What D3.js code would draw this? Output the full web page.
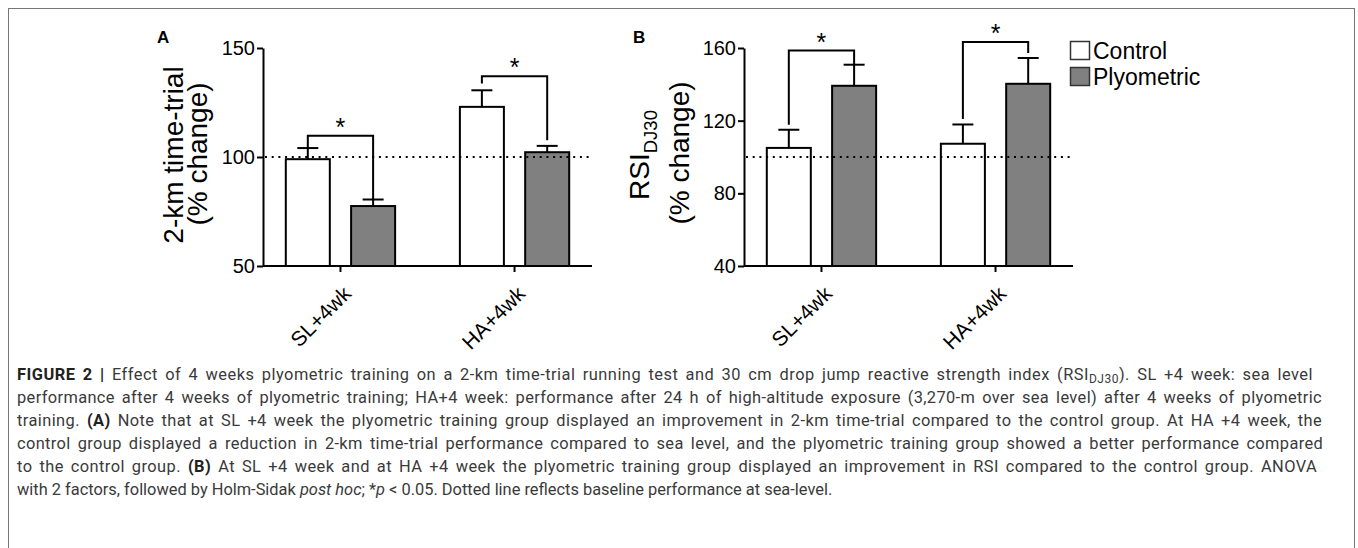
<!DOCTYPE html>
<html><head><meta charset="utf-8">
<script src="https://cdn.jsdelivr.net/npm/d3@7"></script>
<style>
body{margin:0;background:#fff}
svg{display:block}
.chart text{font-family:"Liberation Sans",Arial,sans-serif;fill:#000}
.cap text{font-family:Roboto,"Liberation Sans",sans-serif;fill:#3a3a3a}
</style>
</head><body>
<svg id="c" width="1358" height="548"></svg>
<script>
// ---------- data ----------
const categories = ["SL+4wk", "HA+4wk"];
const series = ["Control", "Plyometric"];
// Panel A: 2-km time-trial (% change)
const ttControl = [99.0, 123.0];
const ttControlSem = [5.1, 7.6];
const ttPlyo = [77.5, 102.2];
const ttPlyoSem = [3.0, 2.9];
const ttTicks = [50, 100, 150];
// [bracket level, control leg end, plyometric leg end]
const ttBrackets = [[109.8, 104.1, 80.5], [137.0, 133.7, 107.7]];
// Panel B: RSI DJ30 (% change)
const rsiControl = [105.0, 107.3];
const rsiControlSem = [10.0, 10.6];
const rsiPlyo = [139.2, 140.3];
const rsiPlyoSem = [11.6, 14.2];
const rsiTicks = [40, 80, 120, 160];
const rsiBrackets = [[158.6, 117.7, 150.8], [163.3, 120.9, 157.2]];
const baselineValue = 100;
const fills = {Control: "#ffffff", Plyometric: "#808080"};

const svg = d3.select("#c");
svg.append("rect").attr("x", 8.5).attr("y", 8.5).attr("width", 1346).attr("height", 620)
  .attr("fill", "none").attr("stroke", "#777").attr("stroke-width", 1);

const chart = svg.append("g").attr("class", "chart");

function panel(o) {
  const g = chart.append("g");
  const x0 = d3.scaleBand().domain(categories).range([o.left, o.left + 329])
    .paddingInner(0.372).paddingOuter(0.131);
  const x1 = d3.scaleBand().domain(series).range([0, x0.bandwidth()]).paddingInner(0.326);
  const y = d3.scaleLinear().domain([o.ticks[0], o.ticks[o.ticks.length - 1]]).range([266, 48]);

  const rows = [];
  categories.forEach((c, i) => {
    rows.push({c, s: "Control", v: o.control[i], e: o.controlSem[i]});
    rows.push({c, s: "Plyometric", v: o.plyo[i], e: o.plyoSem[i]});
  });
  const cx = d => x0(d.c) + x1(d.s) + x1.bandwidth() / 2;

  // error bars
  g.selectAll(".err").data(rows).join("g").each(function (d) {
    const e = d3.select(this);
    e.append("line").attr("x1", cx(d)).attr("x2", cx(d)).attr("y1", y(d.v)).attr("y2", y(d.v + d.e))
      .attr("stroke", "#000").attr("stroke-width", 2);
    e.append("line").attr("x1", cx(d) - 10.5).attr("x2", cx(d) + 10.5)
      .attr("y1", y(d.v + d.e)).attr("y2", y(d.v + d.e)).attr("stroke", "#000").attr("stroke-width", 2);
  });
  // bars
  g.selectAll(".bar").data(rows).join("rect")
    .attr("x", d => x0(d.c) + x1(d.s)).attr("width", x1.bandwidth())
    .attr("y", d => y(d.v)).attr("height", d => y(o.ticks[0]) - y(d.v))
    .attr("fill", d => fills[d.s]).attr("stroke", "#000").attr("stroke-width", 2);

  // brackets
  categories.forEach((c, i) => {
    const b = o.brackets[i];
    const xl = x0(c) + x1("Control") + x1.bandwidth() / 2;
    const xr = x0(c) + x1("Plyometric") + x1.bandwidth() / 2;
    g.append("path")
      .attr("d", `M${xl},${y(b[1])}V${y(b[0])}H${xr}V${y(b[2])}`)
      .attr("fill", "none").attr("stroke", "#000").attr("stroke-width", 2);
    g.append("text").attr("x", (xl + xr) / 2).attr("y", y(b[0]) + 0)
      .attr("text-anchor", "middle").attr("font-size", 25).text("*");
  });

  // dotted baseline
  g.append("line").attr("x1", o.left + 2).attr("x2", o.left + 329)
    .attr("y1", y(baselineValue)).attr("y2", y(baselineValue))
    .attr("stroke", "#000").attr("stroke-width", 2).attr("stroke-dasharray", "2,4.7");

  // y axis
  const ya = g.append("g").attr("transform", `translate(${o.left},0)`)
    .call(d3.axisLeft(y).tickValues(o.ticks).tickSize(6).tickSizeOuter(0).tickPadding(2));
  ya.select(".domain").attr("stroke-width", 2);
  ya.selectAll(".tick line").attr("stroke-width", 2);
  ya.selectAll(".tick text").attr("font-size", 20).attr("font-family", "Liberation Sans, Arial, sans-serif").attr("fill", "#000");

  // x axis
  const xa = g.append("g").attr("transform", `translate(0,266)`);
  xa.append("line").attr("x1", o.left).attr("x2", o.left + 329).attr("stroke", "#000").attr("stroke-width", 2);
  categories.forEach(c => {
    const tx = x0(c) + x0.bandwidth() / 2;
    xa.append("line").attr("x1", tx).attr("x2", tx).attr("y1", 0).attr("y2", 6)
      .attr("stroke", "#000").attr("stroke-width", 2);
    xa.append("text").attr("text-anchor", "end").attr("font-size", 21)
      .attr("transform", `translate(${tx + 12},29) rotate(-45)`).text(c);
  });

  // panel letter
  chart.append("text").attr("x", o.letterX).attr("y", 42.5).attr("font-size", 17)
    .attr("font-weight", "bold").text(o.letter);
  return {g, y};
}

panel({left: 263, control: ttControl, controlSem: ttControlSem, plyo: ttPlyo, plyoSem: ttPlyoSem,
  ticks: ttTicks, brackets: ttBrackets, letter: "A", letterX: 157});
panel({left: 744, control: rsiControl, controlSem: rsiControlSem, plyo: rsiPlyo, plyoSem: rsiPlyoSem,
  ticks: rsiTicks, brackets: rsiBrackets, letter: "B", letterX: 633});

// y titles
chart.append("text").attr("transform", "translate(183,155) rotate(-90)").attr("text-anchor", "middle")
  .attr("font-size", 28).text("2-km time-trial");
chart.append("text").attr("transform", "translate(207,154) rotate(-90)").attr("text-anchor", "middle")
  .attr("font-size", 28).text("(% change)");
const rt = chart.append("text").attr("transform", "translate(649,155) rotate(-90)").attr("text-anchor", "middle")
  .attr("font-size", 28);
rt.append("tspan").text("RSI");
rt.append("tspan").attr("font-size", 18.5).attr("dy", 8).text("DJ30");
chart.append("text").attr("transform", "translate(689,153) rotate(-90)").attr("text-anchor", "middle")
  .attr("font-size", 28).text("(% change)");

// legend
const leg = chart.append("g");
series.forEach((s, i) => {
  leg.append("rect").attr("x", 1070.5).attr("y", 41.5 + i * 26).attr("width", 19).attr("height", 18)
    .attr("fill", fills[s]).attr("stroke", "#333").attr("stroke-width", 1.5);
  leg.append("text").attr("x", 1093).attr("y", 58.5 + i * 26).attr("font-size", 23).text(s);
});

// caption
const cap = svg.append("g").attr("class", "cap");
const capLines = [
  [["b", "FIGURE 2 | "], ["n", "Effect of 4 weeks plyometric training on a 2-km time-trial running test and 30 cm drop jump reactive strength index (RSI"], ["sub", "DJ30"], ["up", "). SL +4 week: sea level"]],
  [["n", "performance after 4 weeks of plyometric training; HA+4 week: performance after 24 h of high-altitude exposure (3,270-m over sea level) after 4 weeks of plyometric"]],
  [["n", "training. "], ["b", "(A)"], ["n", " Note that at SL +4 week the plyometric training group displayed an improvement in 2-km time-trial compared to the control group. At HA +4 week, the"]],
  [["n", "control group displayed a reduction in 2-km time-trial performance compared to sea level, and the plyometric training group showed a better performance compared"]],
  [["n", "to the control group. "], ["b", "(B)"], ["n", " At SL +4 week and at HA +4 week the plyometric training group displayed an improvement in RSI compared to the control group. ANOVA"]],
  [["n", "with 2 factors, followed by Holm-Sidak "], ["i", "post hoc"], ["n", "; *"], ["i", "p"], ["n", " < 0.05. Dotted line reflects baseline performance at sea-level."]]
];
const capWidths = [1296, 1305, 1305, 1306, 1300, null];
capLines.forEach((ln, i) => {
  const t = cap.append("text").attr("x", 17).attr("y", 380 + i * 23).attr("font-size", 16.4);
  let spaces = 0, chars = 0;
  ln.forEach(([k, s]) => {
    spaces += (s.match(/ /g) || []).length;
    chars += s.length;
    const ts = t.append("tspan").text(s);
    if (k === "b") ts.attr("font-weight", "bold").style("fill", "#222");
    if (k === "i") ts.attr("font-style", "italic");
    if (k === "sub") ts.attr("font-size", 12).attr("dy", 3);
    if (k === "up") ts.attr("dy", -3);
  });
  if (capWidths[i]) {
    const w = t.node().getComputedTextLength();
    const extra = capWidths[i] - w;
    const ls = 0.5 * extra / chars;
    const ws = 0.5 * extra / spaces;
    t.attr("letter-spacing", ls.toFixed(3)).attr("word-spacing", ws.toFixed(2));
  }
});
</script>
</body></html>
